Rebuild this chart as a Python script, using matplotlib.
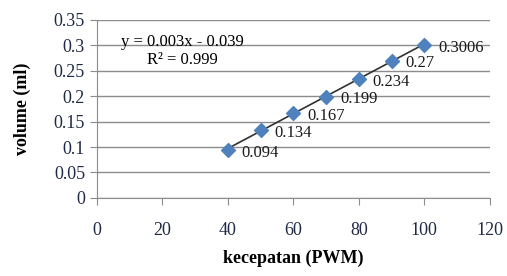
import numpy as np
import matplotlib.pyplot as plt

plt.rcParams['font.family'] = ['Liberation Serif', 'DejaVu Serif']

# data
pwm = [40, 50, 60, 70, 80, 90, 100]
volume = [0.094, 0.134, 0.167, 0.199, 0.234, 0.27, 0.3006]
labels = ['0.094', '0.134', '0.167', '0.199', '0.234', '0.27', '0.3006']
x_ticks = [0, 20, 40, 60, 80, 100, 120]
y_ticks = [0, 0.05, 0.1, 0.15, 0.2, 0.25, 0.3, 0.35]

fig = plt.figure(figsize=(5.07, 2.76), dpi=100)
ax = fig.add_axes([0.191, 0.283, 0.775, 0.645])

ax.set_xlim(0, 120)
ax.set_ylim(0, 0.35)
ax.set_xticks(x_ticks)
ax.set_yticks(y_ticks)
ax.set_yticklabels([f'{v:g}' for v in y_ticks])

ax.grid(axis='y', color='#8c8c8c', linewidth=1)
ax.set_axisbelow(True)
for s in ['top', 'right']:
    ax.spines[s].set_visible(False)
for s in ['left', 'bottom']:
    ax.spines[s].set_color('#8c8c8c')
ax.tick_params(colors='#8c8c8c', labelcolor='#1f2a44', labelsize=13, length=5)
ax.tick_params(axis='x', pad=12)

# linear trendline
k, b = np.polyfit(pwm, volume, 1)
xs = np.array([pwm[0], pwm[-1]])
ax.plot(xs, k * xs + b, color='#303030', linewidth=1.2, zorder=2)

ax.scatter(pwm, volume, marker='D', s=50, color='#4f81bd', zorder=3)
for x, y, t in zip(pwm, volume, labels):
    ax.annotate(t, (x, y), xytext=(10, -2), textcoords='offset points',
                va='center', ha='left', fontsize=12, color='#1a1a1a')

ax.text(26, 0.306, 'y = 0.003x - 0.039', ha='center', va='center', fontsize=12)
ax.text(26, 0.271, 'R² = 0.999', ha='center', va='center', fontsize=12)

ax.set_xlabel('kecepatan (PWM)', fontsize=13, fontweight='bold', labelpad=8)
ax.set_ylabel('volume (ml)', fontsize=13, fontweight='bold', labelpad=16)

fig.savefig('out.png', dpi=100)
